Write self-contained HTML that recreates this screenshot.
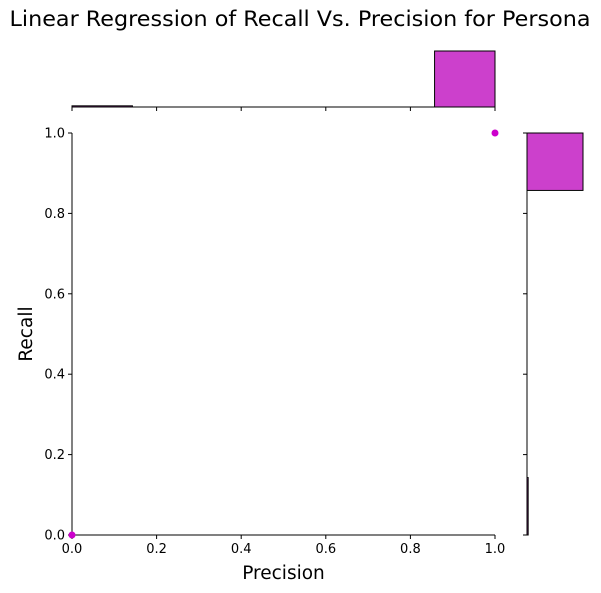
<!DOCTYPE html>
<html><head><meta charset="utf-8"><style>body{margin:0;background:#fff}svg{display:block;font-family:"DejaVu Sans","Liberation Sans",sans-serif}</style></head>
<body>
<svg id="chart" width="601" height="593" viewBox="0 0 601 593" xmlns="http://www.w3.org/2000/svg">
<text x="300" y="26" text-anchor="middle" font-size="21" textLength="581" lengthAdjust="spacingAndGlyphs">Linear Regression of Recall Vs. Precision for Persona</text>
<g id="main"></g>
<text x="283.5" y="579" text-anchor="middle" font-size="18.5">Precision</text>
<text transform="translate(32,334) rotate(-90)" text-anchor="middle" font-size="18.5">Recall</text>
</svg>
<script>
const pointsX=[0,1];
const pointsY=[0,1];
const ticks=[0,0.2,0.4,0.6,0.8,1.0];
const tickLabels=["0.0","0.2","0.4","0.6","0.8","1.0"];
const xHistCounts=[1,0,0,0,0,0,48];
const yHistCounts=[1,0,0,0,0,0,48];
const binEdgesStart=0, binCount=7;

const NS="http://www.w3.org/2000/svg";
const g=document.getElementById('main');
const X0=72,X1=495,Y0=535,Y1=133;
const sx=v=>X0+(X1-X0)*v, sy=v=>Y0-(Y0-Y1)*v;
const maxC=Math.max(...xHistCounts,...yHistCounts);
const hx=c=>56*c/maxC;
function el(t,a){const e=document.createElementNS(NS,t);for(const k in a)e.setAttribute(k,a[k]);g.appendChild(e);return e;}
// axes
let e=el('line',{x1:X0,y1:Y1,x2:X0,y2:Y0,stroke:'#000'});

e=el('line',{x1:X0,y1:Y0,x2:X1,y2:Y0,stroke:'#000'});

e=el('line',{x1:X0,y1:107,x2:X1,y2:107,stroke:'#000'});

e=el('line',{x1:527,y1:Y1,x2:527,y2:Y0,stroke:'#000'});

ticks.forEach((t,i)=>{
 let a=el('line',{x1:sx(t),y1:Y0,x2:sx(t),y2:Y0+4,stroke:'#000'});
 
 a=el('text',{x:sx(t),y:Y0+18,'text-anchor':'middle','font-size':13});a.textContent=tickLabels[i];
 
 a=el('line',{x1:X0-4,y1:sy(t),x2:X0,y2:sy(t),stroke:'#000'});
 
 a=el('text',{x:X0-7,y:sy(t)+4.5,'text-anchor':'end','font-size':13});a.textContent=tickLabels[i];
 
 a=el('line',{x1:sx(t),y1:107,x2:sx(t),y2:111,stroke:'#000'});
 
 a=el('line',{x1:523,y1:sy(t),x2:527,y2:sy(t),stroke:'#000'});
 
});
xHistCounts.forEach((c,i)=>{if(!c)return;
 const a=sx(i/binCount),b=sx((i+1)/binCount),h=hx(c);
 const r=el('rect',{x:a,y:107-h,width:b-a,height:h,fill:'#cc40cc',stroke:'#000','stroke-width':1});
 
});
yHistCounts.forEach((c,i)=>{if(!c)return;
 const a=sy((i+1)/binCount),b=sy(i/binCount),w=hx(c);
 const r=el('rect',{x:527,y:a,width:w,height:b-a,fill:'#cc40cc',stroke:'#000','stroke-width':1});
 
});
pointsX.forEach((v,i)=>{
 const c=el('circle',{cx:sx(v),cy:sy(pointsY[i]),r:3.5,fill:'#cc00cc'});
 
});
</script>
</body></html>
